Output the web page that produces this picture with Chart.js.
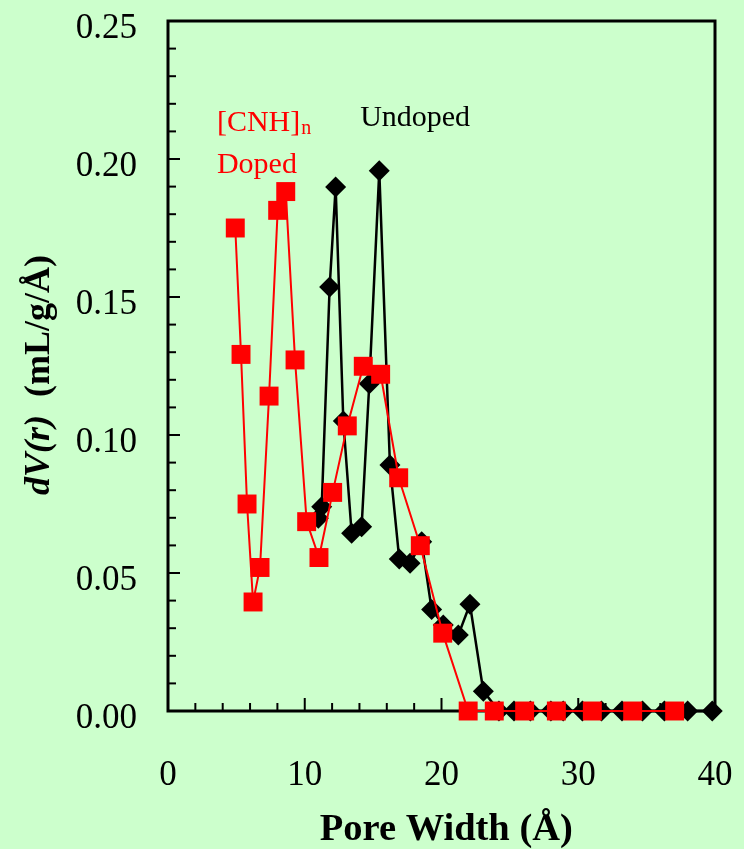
<!DOCTYPE html>
<html>
<head>
<meta charset="utf-8">
<script src="https://cdn.jsdelivr.net/npm/chart.js@4.4.1/dist/chart.umd.min.js"></script>
<style>
  html, body { margin: 0; padding: 0; background: #ccffcc; }
  #wrap { width: 744px; height: 849px; }
</style>
</head>
<body>
<div id="wrap"><canvas id="poreChart"></canvas></div>
<script>
// [CNH]n doped (red squares)
const dopedX = [4.92, 5.34, 5.78, 6.22, 6.73, 7.39, 8.02, 8.61, 9.29, 10.14, 11.04, 12.04, 13.11,
  14.28, 15.55, 16.87, 18.45, 20.09, 21.95, 23.86, 26.08, 28.4, 31.03, 33.98, 37.05];
const dopedY = [0.175, 0.1292, 0.075, 0.0395, 0.052, 0.1141, 0.1814, 0.1882, 0.1272, 0.0686, 0.0556, 0.0792, 0.1033,
  0.1249, 0.122, 0.0845, 0.0599, 0.0282, 0, 0, 0, 0, 0, 0, 0];

// undoped (black diamonds)
const undopedX = [10.99, 11.24, 11.82, 12.26, 12.82, 13.43, 14.16, 14.72, 15.45, 16.23, 16.91, 17.7, 18.55,
  19.28, 20.13, 21.23, 22.08, 23.06, 24.2, 25.3, 26.5, 28.0, 28.9, 30.3, 31.7, 33.2, 34.7, 36.3, 38.0, 39.8];
const undopedY = [0.0698, 0.074, 0.1536, 0.1899, 0.1051, 0.0644, 0.0668, 0.1186, 0.1957, 0.0891, 0.0551, 0.0535, 0.0613,
  0.0368, 0.0312, 0.0275, 0.0387, 0.0072, 0, 0, 0, 0, 0, 0, 0, 0, 0, 0, 0, 0];

const xLabels = [0, 10, 20, 30, 40];
const yLabels = [0, 5, 10, 15, 20, 25]; // hundredths

const serif = '"Liberation Serif", "Times New Roman", serif';

// inward tick marks + box frame
const frameTicks = {
  id: 'frameTicks',
  beforeDatasetsDraw(chart) {
    const { ctx, chartArea: a, scales: { x, y } } = chart;
    ctx.save();
    ctx.strokeStyle = '#000';
    ctx.lineWidth = 2;
    y.ticks.forEach(t => {
      const py = y.getPixelForValue(t.value);
      const major = yLabels.includes(Math.round(t.value * 100));
      ctx.beginPath();
      ctx.moveTo(a.left, py);
      ctx.lineTo(a.left + (major ? 12 : 8), py);
      ctx.stroke();
    });
    x.ticks.forEach(t => {
      const px = x.getPixelForValue(t.value);
      const major = xLabels.includes(Math.round(t.value));
      ctx.beginPath();
      ctx.moveTo(px, a.bottom);
      ctx.lineTo(px, a.bottom - (major ? 13 : 8));
      ctx.stroke();
    });
    ctx.lineWidth = 3;
    ctx.strokeRect(a.left, a.top, a.right - a.left, a.bottom - a.top);
    ctx.restore();
  }
};

// series labels and y title
const textLayer = {
  id: 'textLayer',
  afterDraw(chart) {
    const { ctx, chartArea: a, scales: { x, y } } = chart;
    ctx.save();
    ctx.textBaseline = 'alphabetic';
    ctx.textAlign = 'left';

    ctx.fillStyle = '#ff0000';
    ctx.font = '30px ' + serif;
    const lx = x.getPixelForValue(3.58);
    ctx.fillText('[CNH]', lx, y.getPixelForValue(0.2101));
    const w = ctx.measureText('[CNH]').width;
    ctx.font = '20px ' + serif;
    ctx.fillText('n', lx + w + 1, y.getPixelForValue(0.209));
    ctx.font = '30px ' + serif;
    ctx.fillText('Doped', lx, y.getPixelForValue(0.1949));

    ctx.fillStyle = '#000';
    ctx.fillText('Undoped', x.getPixelForValue(14.05), y.getPixelForValue(0.2121));

    // y axis title: italic part + upright part
    const p1 = 'dV(r)', p2 = '  (mL/g/Å)';
    const f1 = 'italic bold 36px ' + serif, f2 = 'bold 36px ' + serif;
    ctx.font = f1; const w1 = ctx.measureText(p1).width;
    ctx.font = f2; const w2 = ctx.measureText(p2).width;
    ctx.translate(49, (a.top + a.bottom) / 2 + 9);
    ctx.rotate(-Math.PI / 2);
    const start = -(w1 + w2) / 2;
    ctx.font = f1; ctx.fillText(p1, start, 0);
    ctx.font = f2; ctx.fillText(p2, start + w1, 0);
    ctx.restore();
  }
};

new Chart(document.getElementById('poreChart'), {
  type: 'scatter',
  data: {
    datasets: [{
      label: '[CNH]n Doped',
      data: dopedX.map((v, i) => ({ x: v, y: dopedY[i] })),
      showLine: true,
      borderColor: '#ff0000',
      borderWidth: 2,
      pointStyle: 'rect',
      pointRadius: 13.4,
      pointBorderWidth: 0,
      pointBackgroundColor: '#ff0000',
      clip: false
    }, {
      label: 'Undoped',
      data: undopedX.map((v, i) => ({ x: v, y: undopedY[i] })),
      showLine: true,
      borderColor: '#000',
      borderWidth: 2.5,
      pointStyle: 'rectRot',
      pointRadius: 10.5,
      pointBorderWidth: 0,
      pointBackgroundColor: '#000',
      clip: false
    }]
  },
  options: {
    responsive: true,
    maintainAspectRatio: false,
    animation: false,
    events: [],
    layout: { padding: { top: 21, right: 29, left: 0, bottom: 0 } },
    plugins: { legend: { display: false }, tooltip: { enabled: false } },
    scales: {
      x: {
        type: 'linear',
        min: 0,
        max: 40,
        afterFit(s) {
          s.height = 138;
          s.paddingLeft = 0; s.paddingRight = 0;
        },
        grid: { display: false, drawTicks: false },
        border: { display: false },
        ticks: {
          stepSize: 2,
          autoSkip: false,
          maxRotation: 0,
          padding: 44,
          color: '#000',
          font: { family: serif, size: 35 },
          callback: v => xLabels.includes(Math.round(v)) ? String(Math.round(v)) : ''
        },
        title: {
          display: true,
          text: ' Pore Width (Å)',
          color: '#000',
          padding: 0,
          font: { family: serif, size: 38.5, weight: 'bold', lineHeight: 1 }
        }
      },
      y: {
        min: 0,
        max: 0.25,
        afterFit(s) {
          s.width = 168;
          s.paddingTop = 0; s.paddingBottom = 0;
        },
        grid: { display: false, drawTicks: false },
        border: { display: false },
        ticks: {
          stepSize: 0.01,
          maxTicksLimit: 100,
          autoSkip: false,
          padding: 31,
          labelOffset: 8,
          color: '#000',
          font: { family: serif, size: 35 },
          callback: v => {
            const k = Math.round(v * 100);
            return yLabels.includes(k) ? (k / 100).toFixed(2) : '';
          }
        }
      }
    }
  },
  plugins: [frameTicks, textLayer]
});
</script>
</body>
</html>
